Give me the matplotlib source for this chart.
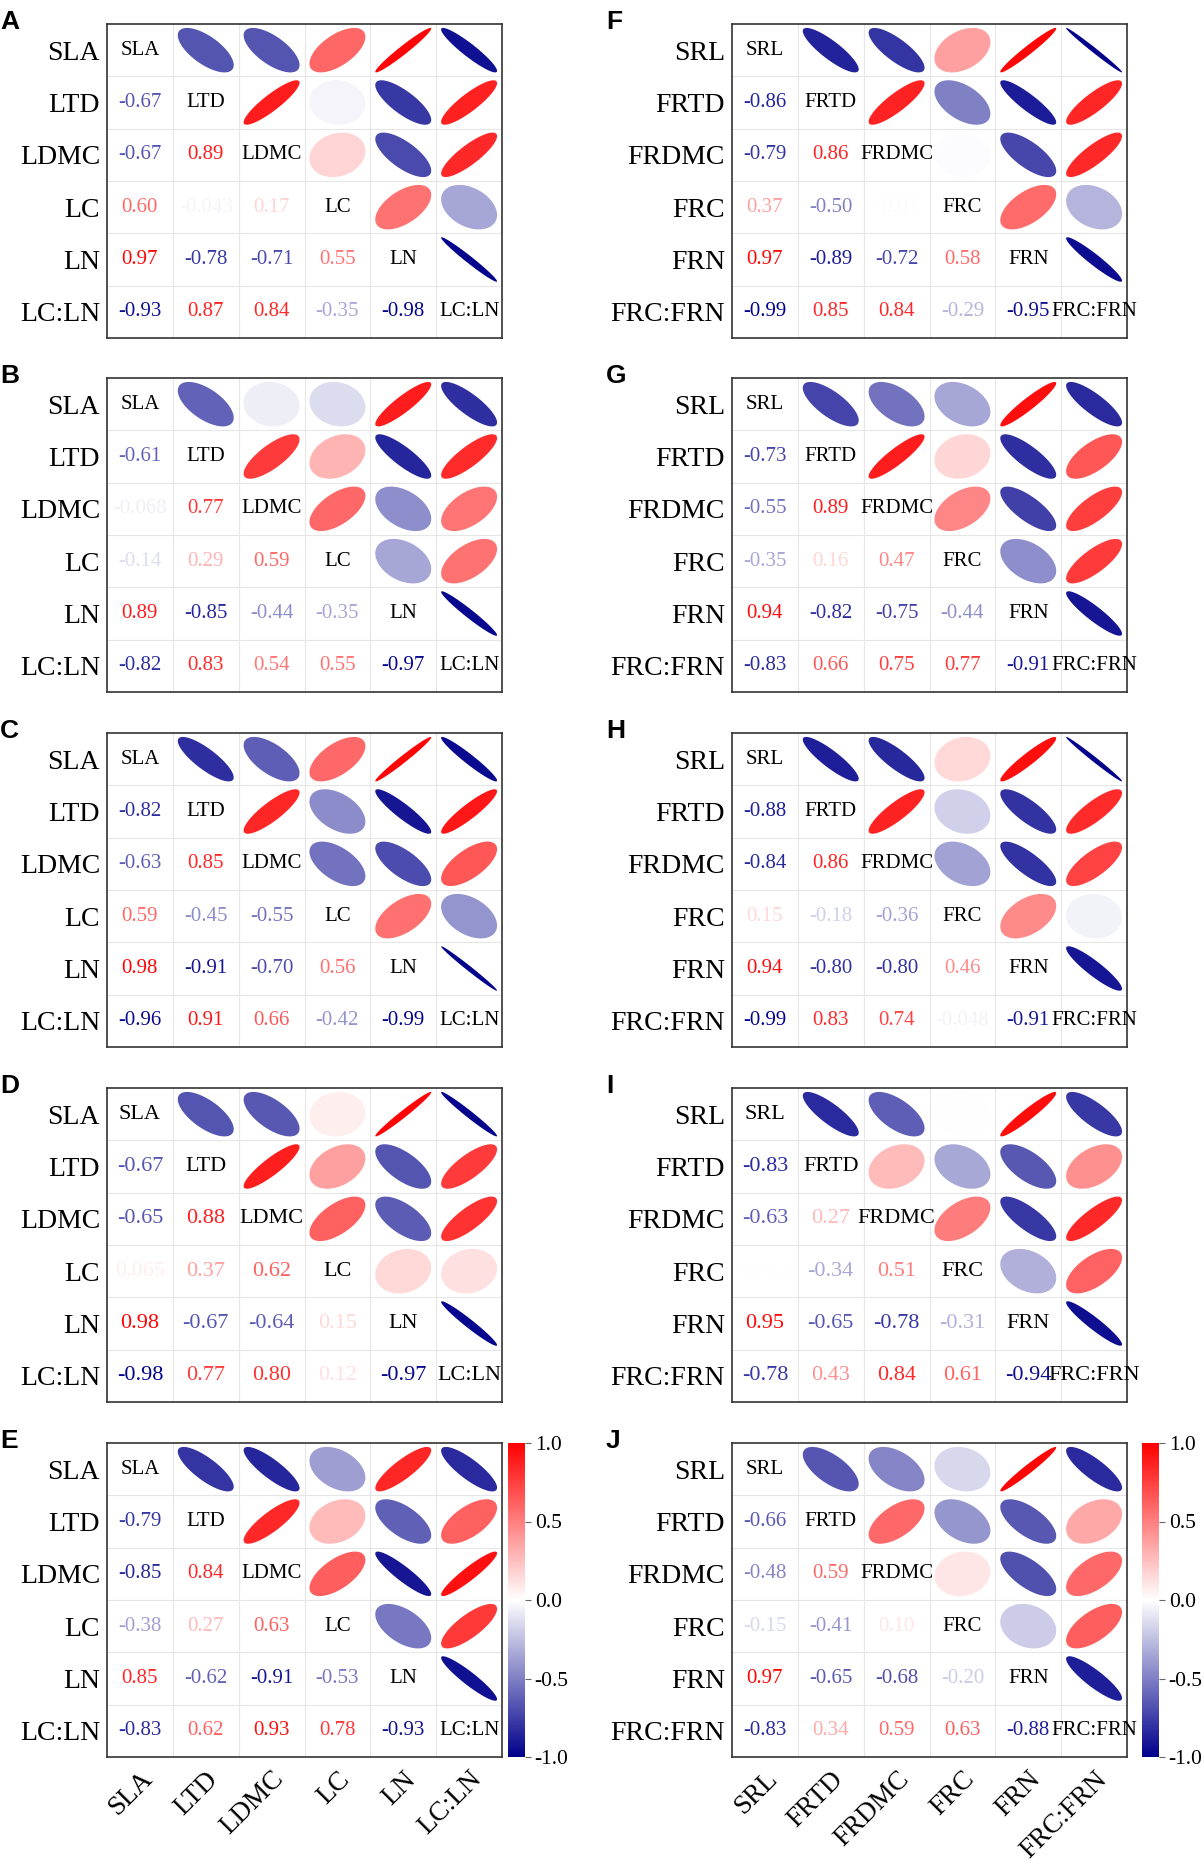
import numpy as np
import matplotlib
matplotlib.use('Agg')
import matplotlib.pyplot as plt
from matplotlib.colors import LinearSegmentedColormap, Normalize
from matplotlib.patches import Polygon
import matplotlib.cm as cm

plt.rcParams['font.family'] = ['Liberation Serif', 'DejaVu Serif']

leaf_vars = ['SLA', 'LTD', 'LDMC', 'LC', 'LN', 'LC:LN']
root_vars = ['SRL', 'FRTD', 'FRDMC', 'FRC', 'FRN', 'FRC:FRN']

# lower triangle of each correlation matrix (row 2..6)
corr_A = [[-0.67],
          [-0.67, 0.89],
          [0.60, -0.043, 0.17],
          [0.97, -0.78, -0.71, 0.55],
          [-0.93, 0.87, 0.84, -0.35, -0.98]]
corr_B = [[-0.61],
          [-0.068, 0.77],
          [-0.14, 0.29, 0.59],
          [0.89, -0.85, -0.44, -0.35],
          [-0.82, 0.83, 0.54, 0.55, -0.97]]
corr_C = [[-0.82],
          [-0.63, 0.85],
          [0.59, -0.45, -0.55],
          [0.98, -0.91, -0.70, 0.56],
          [-0.96, 0.91, 0.66, -0.42, -0.99]]
corr_D = [[-0.67],
          [-0.65, 0.88],
          [0.065, 0.37, 0.62],
          [0.98, -0.67, -0.64, 0.15],
          [-0.98, 0.77, 0.80, 0.12, -0.97]]
corr_E = [[-0.79],
          [-0.85, 0.84],
          [-0.38, 0.27, 0.63],
          [0.85, -0.62, -0.91, -0.53],
          [-0.83, 0.62, 0.93, 0.78, -0.93]]
corr_F = [[-0.86],
          [-0.79, 0.86],
          [0.37, -0.50, -0.01],
          [0.97, -0.89, -0.72, 0.58],
          [-0.99, 0.85, 0.84, -0.29, -0.95]]
corr_G = [[-0.73],
          [-0.55, 0.89],
          [-0.35, 0.16, 0.47],
          [0.94, -0.82, -0.75, -0.44],
          [-0.83, 0.66, 0.75, 0.77, -0.91]]
corr_H = [[-0.88],
          [-0.84, 0.86],
          [0.15, -0.18, -0.36],
          [0.94, -0.80, -0.80, 0.46],
          [-0.99, 0.83, 0.74, -0.048, -0.91]]
corr_I = [[-0.83],
          [-0.63, 0.27],
          [0.004, -0.34, 0.51],
          [0.95, -0.65, -0.78, -0.31],
          [-0.78, 0.43, 0.84, 0.61, -0.94]]
corr_J = [[-0.66],
          [-0.48, 0.59],
          [-0.15, -0.41, 0.10],
          [0.97, -0.65, -0.68, -0.20],
          [-0.83, 0.34, 0.59, 0.63, -0.88]]

cmap = LinearSegmentedColormap.from_list('bwr2', ['#00008B', '#FFFFFF', '#FF0000'])
norm = Normalize(-1, 1)


def full_matrix(lower):
    n = len(lower) + 1
    m = np.eye(n)
    for i, row in enumerate(lower, start=1):
        for j, v in enumerate(row):
            m[i, j] = v
            m[j, i] = v
    return m


def fmt(v):
    if abs(v) < 0.1:
        return '%.2g' % v
    return '%.2f' % v


def draw_corr(ax, labels, lower, fs, bottom_labels=False):
    m = full_matrix(lower)
    n = len(labels)
    ax.set_xlim(0, n)
    ax.set_ylim(0, n)
    for k in range(1, n):
        ax.axvline(k, color='#E6E6E6', lw=0.8, zorder=0)
        ax.axhline(k, color='#E6E6E6', lw=0.8, zorder=0)
    t = np.linspace(0, 2 * np.pi, 99)
    for i in range(n):
        yc = n - i - 0.5
        for j in range(n):
            xc = j + 0.5
            r = m[i, j]
            if i == j:
                ax.text(xc, yc, labels[i], ha='center', va='center',
                        fontsize=fs, color='black', zorder=3)
            elif i > j:
                ax.text(xc, yc, fmt(r), ha='center', va='center',
                        fontsize=fs, color=cmap(norm(r)), zorder=3)
            else:
                a = np.arccos(r)
                ex = 0.85 * np.cos(t + a / 2) / 2 + xc
                ey = 0.85 * np.cos(t - a / 2) / 2 + yc
                ax.add_patch(Polygon(np.column_stack([ex, ey]), closed=True,
                                     facecolor=cmap(norm(r)), edgecolor='none', zorder=2))
    ax.set_yticks([n - i - 0.5 for i in range(n)])
    ax.set_yticklabels(labels, fontsize=20)
    ax.tick_params(axis='y', length=0, pad=5)
    if bottom_labels:
        ax.set_xticks([j + 0.5 for j in range(n)])
        ax.set_xticklabels(labels, fontsize=19.5, rotation=45, ha='right',
                           rotation_mode='anchor')
        ax.tick_params(axis='x', length=0, pad=7)
    else:
        ax.set_xticks([])
    for s in ax.spines.values():
        s.set_color('#333333')
        s.set_linewidth(1.2)


W, H = 1204, 1864
fig = plt.figure(figsize=(W / 100, H / 100), dpi=100)

box_tops = [24, 378, 733, 1088, 1443]
box_h = 314
box_w = 395
left_x = 107
right_x = 732

left_panels = [('A', corr_A, 15), ('B', corr_B, 15), ('C', corr_C, 15),
               ('D', corr_D, 16), ('E', corr_E, 15)]
right_panels = [('F', corr_F, 15), ('G', corr_G, 15), ('H', corr_H, 15),
                ('I', corr_I, 16), ('J', corr_J, 15)]

for k in range(5):
    top = box_tops[k]
    for x0, panels, labels, lx in [(left_x, left_panels, leaf_vars, 0),
                                   (right_x, right_panels, root_vars, 606)]:
        letter, data, fs = panels[k]
        ax = fig.add_axes([x0 / W, 1 - (top + box_h) / H, box_w / W, box_h / H])
        draw_corr(ax, labels, data, fs, bottom_labels=(k == 4))
        fig.text(lx / W, 1 - (top - 14) / H, letter, fontsize=19,
                 fontweight='bold', family=['Liberation Sans', 'DejaVu Sans'],
                 va='top', ha='left')

# colour bars
for cx in [508, 1142]:
    cax = fig.add_axes([cx / W, 1 - (box_tops[4] + box_h) / H, 17 / W, box_h / H])
    cb = fig.colorbar(cm.ScalarMappable(norm=norm, cmap=cmap), cax=cax)
    cb.outline.set_visible(False)
    cb.set_ticks([-1, -0.5, 0, 0.5, 1])
    cb.set_ticklabels(['-1.0', '-0.5', '0.0', '0.5', '1.0'])
    cax.tick_params(labelsize=15.5, length=4, color='#666666', width=0.8, pad=3)

fig.savefig('out.png', dpi=100)
